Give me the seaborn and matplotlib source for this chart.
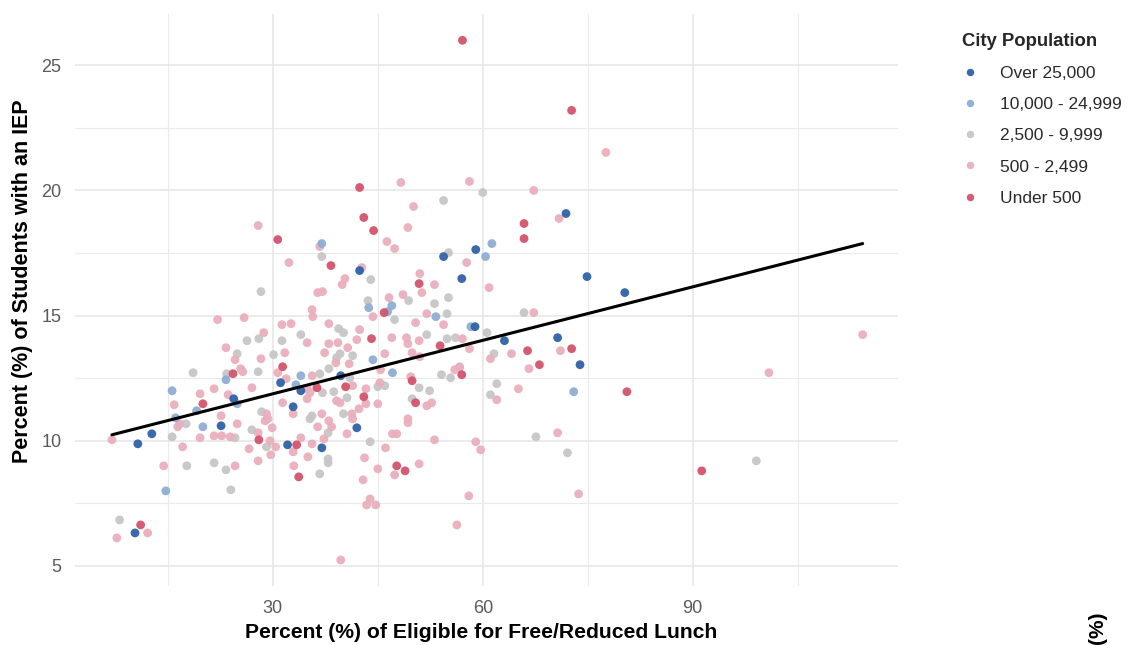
import matplotlib
matplotlib.use("Agg")
import matplotlib.pyplot as plt
import seaborn as sns
import pandas as pd
from matplotlib.ticker import MultipleLocator

# ---------------- data ----------------
categories = ["Over 25,000", "10,000 - 24,999", "2,500 - 9,999", "500 - 2,499", "Under 500"]

over25k_x = [54.4, 59.0, 42.4, 57.0, 71.9, 74.9, 80.3, 58.9, 63.1, 70.7, 73.9, 31.1, 34.0, 39.7,
             24.4, 32.9, 22.6, 42.0, 10.7, 12.7, 32.1, 37.0, 10.3]
over25k_y = [17.36, 17.64, 16.8, 16.48, 19.08, 16.56, 15.92, 14.56, 14.0, 14.12, 13.04, 12.32, 12.0, 12.6,
             11.68, 11.36, 10.6, 10.52, 9.88, 10.28, 9.84, 9.72, 6.32]

p10k_x = [37.0, 61.3, 60.4, 58.3, 43.7, 47.0, 53.3, 46.4, 44.3, 47.1, 23.3, 34.0, 33.3, 15.6,
          19.1, 16.1, 20.0, 14.7, 73.0, 24.9]
p10k_y = [17.88, 17.88, 17.36, 14.56, 15.32, 15.4, 14.96, 15.16, 13.24, 12.72, 12.44, 12.6, 12.24, 12.0,
          11.2, 10.92, 10.56, 8.0, 11.96, 11.48]

p2500_x = [54.4, 60.0, 37.0, 55.1, 44.0, 28.3, 43.6, 49.4, 55.1, 53.1, 47.4, 54.9, 39.4, 40.1,
           34.0, 26.3, 28.0, 31.3, 52.0, 54.9, 56.1, 60.6, 65.9, 24.9, 30.1, 39.6, 39.1, 41.4,
           61.6, 18.6, 23.4, 27.9, 36.7, 38.0, 41.0, 54.1, 55.4, 56.7, 62.0, 61.1, 37.1, 38.7,
           40.6, 45.0, 46.0, 50.9, 52.4, 49.9, 28.4, 35.6, 35.3, 40.1, 17.6, 15.6, 24.6, 27.0,
           29.1, 37.9, 37.9, 37.9, 43.9, 36.7, 17.7, 21.6, 23.3, 24.0, 67.6, 72.1, 99.1, 8.1]
p2500_y = [19.6, 19.92, 17.36, 17.52, 16.44, 15.96, 15.6, 15.6, 15.72, 15.48, 14.84, 15.08, 14.48, 14.32,
           14.24, 14.0, 14.08, 14.0, 14.24, 14.08, 14.12, 14.32, 15.12, 13.48, 13.44, 13.48, 13.32, 13.4,
           13.48, 12.72, 12.68, 12.76, 12.68, 12.88, 12.52, 12.64, 12.52, 12.92, 12.28, 11.84, 11.92, 11.96,
           11.72, 12.16, 12.2, 12.12, 12.0, 11.68, 11.16, 11.0, 10.88, 11.08, 10.68, 10.16, 10.12, 10.44,
           9.76, 10.32, 9.28, 9.12, 9.96, 8.68, 9.0, 9.12, 8.84, 8.04, 10.16, 9.52, 9.2, 6.84]

p500_x = [48.3, 58.1, 50.1, 27.9, 49.3, 46.3, 47.4, 36.7, 57.7, 32.3, 42.7, 40.3, 39.9, 51.0,
          53.1, 36.4, 37.1, 48.6, 51.3, 46.6, 77.6, 67.3, 70.9, 60.9, 67.3, 57.1, 58.1, 61.1,
          64.1, 71.1, 66.6, 56.7, 62.0, 65.1, 100.9, 114.3, 59.0, 59.7, 70.7, 58.0, 73.7, 56.3,
          35.6, 35.7, 44.3, 52.0, 50.4, 54.4, 22.1, 25.9, 31.3, 32.6, 38.0, 42.4, 28.7, 34.9,
          42.0, 47.0, 49.1, 49.3, 50.9, 23.3, 24.6, 28.3, 31.7, 37.4, 38.0, 39.3, 40.7, 39.0,
          40.9, 46.0, 49.9, 51.0, 25.4, 25.7, 30.7, 35.6, 31.9, 34.9, 35.3, 34.9, 43.3, 45.4,
          45.3, 49.7, 56.0, 19.6, 21.6, 23.6, 27.0, 15.9, 31.4, 32.9, 39.1, 39.6, 42.3, 43.3,
          45.0, 52.0, 52.7, 41.3, 41.4, 29.1, 29.3, 29.9, 28.9, 22.6, 24.9, 16.4, 16.7, 37.0,
          38.0, 38.4, 36.4, 49.3, 49.3, 21.6, 22.7, 23.9, 27.9, 26.6, 30.4, 29.6, 29.7, 27.9,
          32.9, 34.0, 35.6, 35.0, 37.3, 33.0, 24.6, 19.6, 17.1, 14.4, 7.0, 40.6, 47.1, 47.7,
          53.1, 46.1, 43.1, 45.0, 50.9, 47.4, 42.9, 43.4, 43.9, 44.7, 39.7, 7.7, 12.1, 41.4]
p500_y = [20.32, 20.36, 19.36, 18.6, 18.52, 17.96, 17.68, 17.76, 17.12, 17.12, 16.92, 16.48, 16.24, 16.68,
          16.24, 15.92, 15.96, 15.84, 15.92, 15.72, 21.52, 20.0, 18.88, 16.12, 15.12, 14.08, 13.68, 13.28,
          13.48, 13.6, 12.88, 12.96, 11.64, 12.08, 12.72, 14.24, 9.96, 9.64, 10.32, 7.8, 7.88, 6.64,
          15.24, 14.96, 14.96, 15.08, 14.72, 14.64, 14.84, 14.92, 14.64, 14.68, 14.68, 14.44, 14.32, 13.92,
          14.04, 14.12, 14.12, 13.88, 14.0, 13.72, 13.24, 13.28, 13.52, 13.52, 13.88, 13.92, 13.72, 13.12,
          13.08, 13.48, 13.52, 13.36, 12.88, 12.76, 12.72, 12.6, 12.48, 12.08, 11.92, 11.68, 12.08, 12.84,
          12.32, 12.56, 12.84, 11.88, 12.08, 11.84, 12.12, 11.44, 11.52, 11.08, 11.6, 11.52, 11.28, 11.48,
          11.48, 11.4, 11.52, 11.08, 10.88, 11.08, 10.88, 10.52, 10.8, 11.0, 10.68, 10.56, 10.68, 11.08,
          10.8, 10.56, 10.56, 10.88, 10.72, 10.2, 10.2, 10.16, 10.32, 9.68, 9.76, 10.0, 9.44, 9.2,
          9.56, 10.12, 9.88, 9.36, 10.08, 9.0, 9.0, 10.12, 9.76, 9.0, 10.04, 10.28, 10.28, 10.28,
          10.04, 9.72, 9.32, 8.88, 9.08, 8.64, 8.44, 7.44, 7.68, 7.44, 5.24, 6.12, 6.32, 12.2]

under500_x = [57.1, 72.7, 42.4, 43.0, 44.4, 30.7, 38.3, 50.9, 65.9, 65.9, 66.4, 72.7, 68.1, 57.0,
              80.6, 91.3, 45.9, 44.1, 53.9, 31.4, 24.3, 36.3, 40.4, 49.9, 43.0, 50.4, 20.0, 28.0,
              33.4, 33.7, 47.7, 48.9, 11.1]
under500_y = [26.0, 23.2, 20.12, 18.92, 18.4, 18.04, 17.0, 16.28, 18.68, 18.08, 13.6, 13.68, 13.04, 12.64,
              11.96, 8.8, 15.12, 14.08, 13.8, 12.96, 12.68, 12.12, 12.16, 12.4, 11.76, 11.52, 11.48, 10.04,
              9.84, 8.56, 9.0, 8.8, 6.64]

# fitted trend line (end points)
fit_x = [7.0, 114.3]
fit_y = [10.24, 17.88]

colors = ["#2f62a7", "#8eadd4", "#c6c6c6", "#eaaebd", "#d4536d"]

# ---------------- build table ----------------
series = [(over25k_x, over25k_y), (p10k_x, p10k_y), (p2500_x, p2500_y),
          (p500_x, p500_y), (under500_x, under500_y)]
draw_order = [2, 3, 1, 4, 0]
rows = []
for i in draw_order:
    xs, ys = series[i]
    for xv, yv in zip(xs, ys):
        rows.append({"x": xv, "y": yv, "pop": categories[i]})
df = pd.DataFrame(rows)

# ---------------- plot ----------------
sns.set_theme(style="white")
plt.rcParams['font.family'] = ['Liberation Sans', 'DejaVu Sans']

fig = plt.figure(figsize=(11.39, 6.45), dpi=100)
ax = fig.add_axes([74.5 / 1139, 1 - 586 / 645, (898 - 74.5) / 1139, (586 - 14) / 645])

sns.scatterplot(data=df, x="x", y="y", hue="pop", hue_order=categories,
                palette=dict(zip(categories, colors)), s=40, linewidth=0,
                alpha=0.95, ax=ax, zorder=3)
sns.lineplot(x=fit_x, y=fit_y, color="black", lw=2.2, ax=ax, zorder=4)

ax.set_xlim(1.65, 119.35)
ax.set_ylim(4.2, 27.05)
ax.xaxis.set_major_locator(MultipleLocator(30))
ax.xaxis.set_minor_locator(MultipleLocator(15))
ax.yaxis.set_major_locator(MultipleLocator(5))
ax.yaxis.set_minor_locator(MultipleLocator(2.5))
ax.grid(which="major", color="#e6e6e6", lw=1.1)
ax.grid(which="minor", color="#eaeaea", lw=0.8)
ax.set_axisbelow(True)
for s in ax.spines.values():
    s.set_visible(False)
ax.tick_params(which="both", length=0, labelsize=13, labelcolor="#5a5a5a")
ax.tick_params(axis="x", pad=10.4)
ax.tick_params(axis="y", pad=9.5)

ax.set_xlabel("Percent (%) of Eligible for Free/Reduced Lunch", fontsize=15.2,
              fontweight="bold", color="black")
ax.set_ylabel("Percent (%) of Students with an IEP", fontsize=15.5,
              fontweight="bold", color="black")
ax.xaxis.set_label_coords(0.494, -0.0647)
ax.yaxis.set_label_coords(-0.0504, 0.533)

handles, labels = ax.get_legend_handles_labels()
leg = ax.legend(handles[:5], labels[:5], title="City Population", loc="upper left",
                bbox_to_anchor=(961.5 / 1139, 1 - 33 / 645), bbox_transform=fig.transFigure,
                frameon=False, fontsize=12.5, handlelength=1.0, handletextpad=1.22,
                labelspacing=0.92, borderpad=0, borderaxespad=0, markerscale=0.85)
leg.get_title().set_fontweight("bold")
leg.get_title().set_fontsize(13.3)
leg._legend_box.align = "left"
for t in leg.get_texts():
    t.set_color("#2a2a2a")

fig.text(1097 / 1139, 1.5 / 645, "(%)", rotation=90, ha="center", va="bottom",
         fontsize=15, fontweight="bold", color="black")

fig.savefig("out.png", dpi=100)
